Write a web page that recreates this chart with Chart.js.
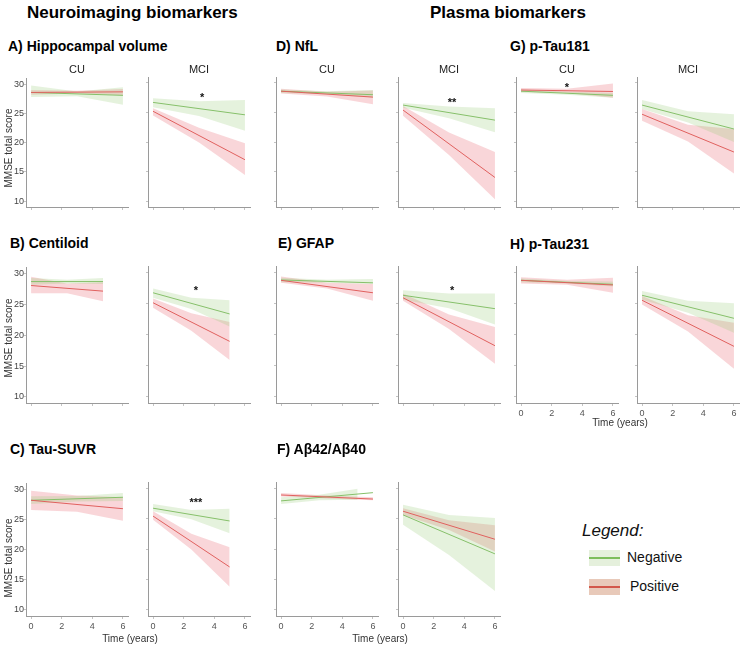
<!DOCTYPE html>
<html><head><meta charset="utf-8">
<script src="https://cdn.jsdelivr.net/npm/chart.js@4"></script>
<style>
body{margin:0;background:#fff;width:744px;height:666px;position:relative;overflow:hidden;font-family:"Liberation Sans",Arial,sans-serif;}
.t{position:absolute;white-space:nowrap;color:#000;}
canvas{position:absolute;}
</style></head><body>
<script>
// ---- data (panel order: A CU, A MCI, D CU, D MCI, G CU, G MCI, B CU, B MCI, E CU, E MCI, H CU, H MCI, C CU, C MCI, F CU, F MCI)
const panelNames = ['A CU','A MCI','D CU','D MCI','G CU','G MCI','B CU','B MCI','E CU','E MCI','H CU','H MCI','C CU','C MCI','F CU','F MCI'];
const tEnd       = [6,6,6,6,6,6,4.7,5,6,6,6,6,6,5,6,6];
const negBandEnd = [6,6,6,6,6,6,4.7,5,6,6,6,6,6,5,5,6];
const xTicks = [0,2,4,6];
const yTicks = [10,15,20,25,30];

const negMean = [[28.6,28.1],[26.7,24.6],[28.6,28.0],[26.25,23.7],[28.6,27.9],[26.25,22.2],[28.7,28.7],[26.7,23.3],[28.76,28.3],[26.3,24.15],[28.7,28.06],[26.3,22.6],[28.2,28.7],[26.7,24.6],[27.9,29.25],[25.6,19.2]];
const negLow  = [[27.8,27.95,26.5],[25.9,24.4,21.9],[28.3,28.1,27.5],[25.8,24.0,21.65],[28.3,28.0,27.5],[25.6,23.3,20.0],[28.2,28.4,28.3],[25.9,24.1,21.3],[28.4,28.3,28.1],[25.6,24.2,21.6],[28.4,28.2,27.7],[25.6,23.5,20.3],[27.6,28.0,28.06],[26.2,24.9,22.6],[27.4,28.0,28.1],[24.0,19.0,13.1]];
const negUp   = [[29.8,28.75,29.5],[27.4,26.9,27.1],[28.9,28.6,28.8],[26.6,26.0,25.7],[28.9,28.5,28.3],[27.1,25.2,24.7],[29.3,29.0,29.3],[27.4,25.9,25.5],[29.1,28.8,28.9],[27.1,26.6,26.6],[29.0,28.6,28.5],[27.0,25.4,25.0],[28.87,28.9,29.4],[27.4,26.4,26.6],[28.5,28.9,29.9],[27.25,25.6,25.1]];
const posMean = [[28.6,28.7],[25.2,17.0],[28.6,27.6],[25.4,14.0],[28.8,28.55],[24.7,18.3],[28.06,27.15],[25.1,18.9],[28.7,26.7],[25.9,18.2],[28.7,27.95],[25.5,18.1],[28.2,26.8],[25.4,17.05],[28.87,28.2],[26.2,21.6]];
const posLow  = [[28.2,28.4,28.1],[24.5,19.9,14.4],[28.2,27.7,26.4],[24.45,17.8,10.3],[28.45,28.3,27.5],[23.6,20.1,14.65],[26.8,26.8,25.5],[24.3,20.6,15.9],[28.3,27.4,25.4],[25.4,20.9,15.3],[28.2,28.0,26.7],[24.8,20.5,14.5],[26.6,26.3,24.8],[24.8,19.9,13.8],[28.6,28.3,28.0],[25.6,23.1,19.6]];
const posUp   = [[29.0,28.9,29.2],[25.7,22.4,19.8],[29.0,28.5,28.7],[26.1,21.6,18.3],[29.15,29.0,29.9],[25.6,22.9,22.2],[29.5,28.4,28.6],[25.8,23.4,22.0],[29.3,28.3,28.1],[26.6,23.2,21.2],[29.2,28.8,29.1],[26.2,23.1,21.9],[29.8,29.0,28.7],[26.2,22.5,20.3],[29.2,28.8,28.5],[26.7,24.7,23.9]];

const sigPanel = [1,3,4,7,9,13];
const sigLabel = ['*','**','*','*','*','***'];
const sigX     = [3.2,3.2,3.0,2.8,3.2,2.8];
const sigY     = [28.0,27.1,29.7,27.5,27.5,28.06];

// ---- layout
const colLeft = [26,148,276,398,516,637];
const rowTop = [77,266,482];
const rowBottom = [207,403,616];
const panelCol = [0,1,2,3,4,5,0,1,2,3,4,5,0,1,2,3];
const panelRow = [0,0,0,0,0,0,1,1,1,1,1,1,2,2,2,2];
const PW = 102;

const GREEN = '#86c06a', RED = '#e0605e';
const GBAND = 'rgba(150,205,120,0.25)', RBAND = 'rgba(232,92,102,0.25)';

function pts(ts, vs){ return ts.map((t,i)=>({x:t,y:vs[i]})); }

function text(str, left, cy, size, opts={}){
  const d=document.createElement('div');
  d.className='t'; d.textContent=str;
  d.style.fontSize=size+'px'; d.style.lineHeight=(size*1.4)+'px';
  d.style.top=(cy-size*0.7)+'px';
  if(opts.center){ d.style.left=(left-150)+'px'; d.style.width='300px'; d.style.textAlign='center'; }
  else d.style.left=left+'px';
  if(opts.bold) d.style.fontWeight='bold';
  if(opts.italic) d.style.fontStyle='italic';
  if(opts.color) d.style.color=opts.color;
  if(opts.rotate){ d.style.transform='rotate(-90deg)'; }
  document.body.appendChild(d);
  return d;
}

const sigPlugin = {
  id:'sig',
  afterDatasetsDraw(chart){
    const idx = chart.options.plugins.sig.panel;
    const ctx = chart.ctx;
    sigPanel.forEach((p,k)=>{
      if(p!==idx) return;
      const x = chart.scales.x.getPixelForValue(sigX[k]);
      const y = chart.scales.y.getPixelForValue(sigY[k]);
      ctx.save();
      ctx.fillStyle='#111';
      ctx.font='bold 11px "Liberation Sans", Arial';
      ctx.textAlign='center'; ctx.textBaseline='alphabetic';
      ctx.fillText(sigLabel[k], x, y+6);
      ctx.restore();
    });
  }
};

panelNames.forEach((name,i)=>{
  const c = panelCol[i], r = panelRow[i];
  const xL = colLeft[c], yT = rowTop[r], yB = rowBottom[r];
  const LW=30, TP=4, RP=4, BH=22;
  const cv=document.createElement('canvas');
  const W = PW+LW+RP, H = (yB-yT)+TP+BH;
  cv.width=W; cv.height=H;
  cv.style.left=(xL-LW)+'px'; cv.style.top=(yT-TP)+'px';
  cv.style.width=W+'px'; cv.style.height=H+'px';
  document.body.appendChild(cv);
  const te=tEnd[i], tn=negBandEnd[i];
  const showY = c===0;
  const showX = (r===2) || (r===1 && c>=4);
  new Chart(cv,{
    type:'line',
    data:{datasets:[
      {data:pts([0,tn/2,tn],negUp[i]), borderWidth:0, pointRadius:0, fill:false, order:2},
      {data:pts([0,tn/2,tn],negLow[i]), borderWidth:0, pointRadius:0, fill:'-1', backgroundColor:GBAND, order:2},
      {data:pts([0,te/2,te],posUp[i]), borderWidth:0, pointRadius:0, fill:false, order:2},
      {data:pts([0,te/2,te],posLow[i]), borderWidth:0, pointRadius:0, fill:'-1', backgroundColor:RBAND, order:2},
      {data:pts([0,i===14?6:te],negMean[i]), borderColor:GREEN, borderWidth:1, pointRadius:0, fill:false, order:1},
      {data:pts([0,te],posMean[i]), borderColor:RED, borderWidth:1, pointRadius:0, fill:false, order:0}
    ]},
    options:{
      responsive:false, animation:false, devicePixelRatio:1,
      layout:{padding:{top:TP,right:RP,left:0,bottom:0}},
      plugins:{legend:{display:false}, tooltip:{enabled:false}, sig:{panel:i}},
      elements:{line:{tension:0}},
      scales:{
        x:{type:'linear', min:-0.33, max:6.33,
           afterBuildTicks:s=>{s.ticks=xTicks.map(v=>({value:v}));},
           afterFit:s=>{s.height=BH;},
           grid:{drawOnChartArea:false, drawTicks:true, tickLength:3, color:'#c4c4c4'},
           border:{display:true, color:'#9a9a9a', width:1},
           ticks:{display:showX, color:'#555', font:{size:9,family:'"Liberation Sans", Arial'}, padding:2, maxRotation:0, autoSkip:false}},
        y:{min:9, max:31,
           afterBuildTicks:s=>{s.ticks=yTicks.map(v=>({value:v}));},
           afterFit:s=>{s.width=LW;},
           grid:{drawOnChartArea:false, drawTicks:true, tickLength:2, color:'#c4c4c4'},
           border:{display:true, color:'#9a9a9a', width:1},
           ticks:{display:showY, color:'#444', font:{size:9,family:'"Liberation Sans", Arial'}, padding:0}}
      }
    },
    plugins:[sigPlugin]
  });
});

// ---- texts
text('Neuroimaging biomarkers', 27, 13, 17, {bold:true});
text('Plasma biomarkers', 430, 13, 17, {bold:true});
text('A) Hippocampal volume', 8, 47, 14, {bold:true});
text('D) NfL', 276, 47, 14, {bold:true});
text('G) p-Tau181', 510, 47, 14, {bold:true});
text('B) Centiloid', 10, 244, 14, {bold:true});
text('E) GFAP', 278, 244, 14, {bold:true});
text('H) p-Tau231', 510, 245, 14, {bold:true});
text('C) Tau-SUVR', 10, 450, 14, {bold:true});
text('F) Aβ42/Aβ40', 277, 450, 14, {bold:true});
['CU','MCI','CU','MCI','CU','MCI'].forEach((s,k)=>{ text(s, colLeft[k]+PW/2, 70, 11, {center:true, color:'#222'}); });
[148,338,558].forEach(cy=>{ text('MMSE total score', 9, cy, 10, {center:true, rotate:true, color:'#333'}); });
text('Time (years)', 130, 639, 10, {center:true, color:'#333'});
text('Time (years)', 380, 639, 10, {center:true, color:'#333'});
text('Time (years)', 620, 423, 10, {center:true, color:'#333'});

// legend
text('Legend:', 582, 531, 17, {italic:true, color:'#111'});
function key(top, fill, line){
  const b=document.createElement('div');
  b.style.cssText='position:absolute;left:589px;top:'+top+'px;width:31px;height:16px;background:'+fill+';';
  const l=document.createElement('div');
  l.style.cssText='position:absolute;left:589px;top:'+(top+7)+'px;width:31px;height:2px;background:'+line+';';
  document.body.appendChild(b); document.body.appendChild(l);
}
key(550,'#e5f0dc','#7dbd5c');
key(579,'#e8c9b9','#d2574a');
text('Negative', 627, 558, 14, {color:'#111'});
text('Positive', 630, 587, 14, {color:'#111'});
</script>
</body></html>
